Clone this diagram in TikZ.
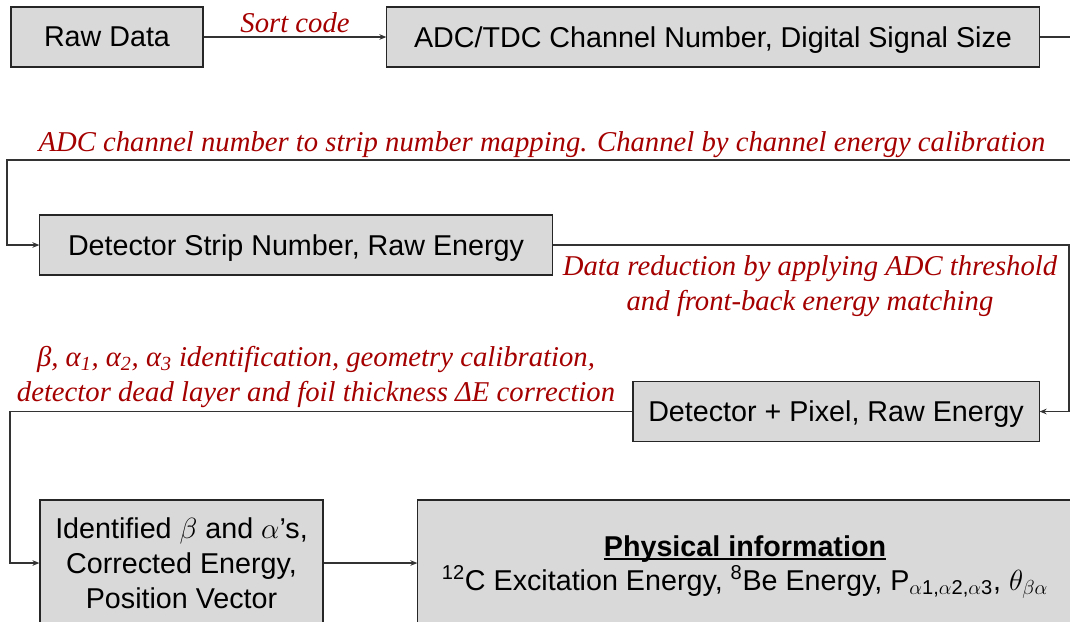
\documentclass[tikz,border=0pt]{standalone}
\usepackage{fontspec}
\setmainfont{Liberation Sans}
\newfontfamily\serifit{Liberation Serif}
\usetikzlibrary{arrows.meta}
\usepackage{xcolor}
\definecolor{boxgray}{RGB}{217,217,217}
\definecolor{notered}{RGB}{165,0,0}
\newcommand\lowline[1]{\leavevmode\setbox0=\hbox{#1}\rlap{\rule[-2.5pt]{\wd0}{1.1pt}}\box0}

\begin{document}
\begin{tikzpicture}[x = 0.025cm, y = -0.025cm,
	stage/.style = {draw = black!85, line width = 0.8pt, fill = boxgray, inner sep = 0pt, minimum height = 1.5cm, text depth = 0pt, font = \fontsize{20.4}{25}\selectfont},
	bigstage/.style = {stage, text depth = {}, minimum height = 3.15cm, align = center},
	note/.style = {text = notered, inner sep = 0pt, align = center, font = \serifit\itshape\fontsize{20.4}{25}\selectfont},
	flow/.style = {draw = black!80, line width = 0.8pt, -{Stealth[length = 5pt, width = 4pt]}}]
	\useasboundingbox (0, 0) rectangle (1070, 621);
	\clip (0, 0) rectangle (1070, 621);
	% stages of the analysis
	\node[stage, minimum width = 4.8cm] (raw) at (107, 37) {Raw Data};
	\node[stage, minimum width = 16.3cm] (adc) at (713, 37) {ADC/TDC Channel Number, Digital Signal Size};
	\node[stage, minimum width = 12.8cm] (strip) at (296, 245) {Detector Strip Number, Raw Energy};
	\node[stage, minimum width = 10.15cm] (pixel) at (836, 411.5) {Detector + Pixel, Raw Energy};
	\node[bigstage, minimum width = 7.075cm] (ident) at (181.5, 563) {Identified $\beta$ and $\alpha$'s,\\ Corrected Energy,\\ Position Vector};
	\node[bigstage, minimum width = 16.35cm] (phys) at (745, 563) {\rule{0pt}{20.5pt}\lowline{\textbf{Physical information}}\\[-1pt] \textsuperscript{12}C Excitation Energy, \textsuperscript{8}Be Energy, P\textsubscript{$\alpha$1,$\alpha$2,$\alpha$3}, $\theta_{\beta\alpha}$};
	% steps between them
	\node[note, anchor = base] (sortlbl) at (295, 32) {Sort code};
	\node[note, anchor = base] (maplbl) at (542, 151) {ADC channel number to strip number mapping. Channel by channel energy calibration};
	\node[note] (reducelbl) at (810, 286) {Data reduction by applying ADC threshold\\ and front-back energy matching};
	\node[note] (idlbl) at (316, 377) {β, α\textsubscript{1}, α\textsubscript{2}, α\textsubscript{3} identification, geometry calibration,\\ detector dead layer and foil thickness ΔE correction};
	\coordinate (r1) at (1085, 160);
	\coordinate (l1) at (7, 160);
	\coordinate (r2) at (1069, 245);
	\coordinate (l2) at (10, 411.5);
	\draw[flow] (raw) -- (adc);
	\draw[flow] (adc.east) -| (r1) -- (l1) |- (strip.west);
	\draw[flow] (strip.east) -- (r2) |- (pixel.east);
	\draw[flow] (pixel.west) -- (l2) |- (ident.west);
	\draw[flow] (ident) -- (phys);
\end{tikzpicture}
\end{document}
